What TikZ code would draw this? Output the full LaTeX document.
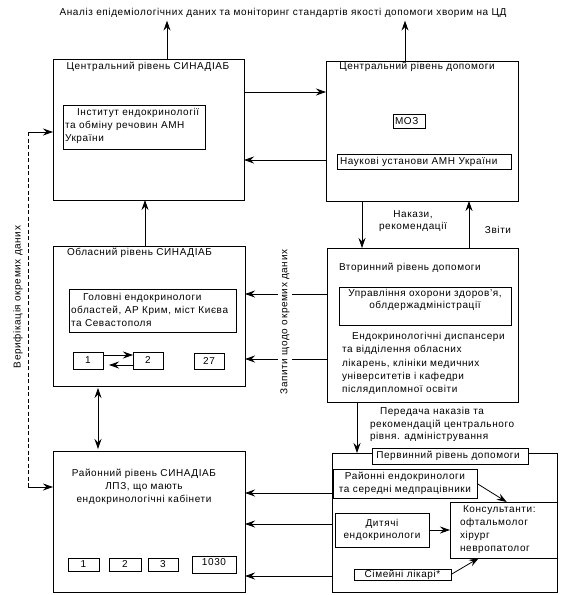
\documentclass[tikz,border=0pt]{standalone}
\usepackage{fontspec}
\setmainfont[LetterSpace=6]{Liberation Sans}
\usetikzlibrary{arrows.meta,calc}
\newcommand\mybx[6][]{\node[box,minimum width={#5-#3},minimum height={#6-#4},#1] (#2) at ({(#3+#5)/2},{(#4+#6)/2}) {};}
\begin{document}
\begin{tikzpicture}[x=1pt,y=-1pt,
  box/.style={draw,line width=0.8pt,rectangle,inner sep=0pt,outer sep=0pt},
  txt/.style={inner sep=0pt,outer sep=0pt,font=\fontsize{10}{12.8}\selectfont},
  arr/.style={-{Stealth[length=10pt,width=7pt,inset=3.5pt]},line width=0.8pt},
  dbl/.style={{Stealth[length=10pt,width=7pt,inset=3.5pt]}-{Stealth[length=10pt,width=7pt,inset=3.5pt]},line width=0.8pt},
  ln/.style={line width=0.8pt}]
\useasboundingbox (0,0) rectangle (573,595);
% top text
\node[txt] (top) at (283,13) {Аналіз епідеміологічних даних та моніторинг стандартів якості допомоги хворим на ЦД};
% central SYNADIAB
\mybx{csyn}{53}{59}{244}{200}
\node[txt] (csynT) at (148,67) {Центральний рівень СИНАДІАБ};
\mybx{inst}{63}{105}{205}{149}
\node[txt,anchor=west,align=left] (instT) at (65,126) {\hspace{12pt}Інститут ендокринології\\та обміну речовин АМН\\України};
% central care
\mybx{ccare}{326}{61}{518}{201}
\node[txt] (ccareT) at (417,67) {Центральний рівень допомоги};
\mybx{moz}{393}{114}{425}{128}
\node[txt,anchor=west] (mozT) at (395,121) {МОЗ};
\mybx{nauk}{337}{154}{511}{169}
\node[txt,anchor=west] (naukT) at (340,161.5) {Наукові установи АМН України};
% secondary
\mybx{sec}{327}{248}{518}{402}
\node[txt,anchor=west] (secT) at (339,268) {Вторинний рівень допомоги};
\mybx{upr}{339}{287}{511}{325}
\node[txt,align=center] (uprT) at (425,300) {Управління охорони здоров'я,\\облдержадміністрації};
\node[txt,anchor=west,align=left,font=\fontsize{10}{13.2}\selectfont] (endoT) at (342,363.5) {\hspace{10pt}Ендокринологічні диспансери\\та відділення обласних\\лікарень, клініки медичних\\університетів і кафедри\\післядипломної освіти};
% oblast
\mybx{obl}{53}{246}{245}{386}
\node[txt,anchor=west] (oblT) at (67,253) {Обласний рівень СИНАДІАБ};
\mybx{glav}{69}{289}{236}{332}
\node[txt,anchor=west,align=left] (glavT) at (71,310) {\hspace{12pt}Головні ендокринологи\\областей, АР Крим, міст Києва\\та Севастополя};
\mybx{ob1}{73}{352}{103}{369}
\node[txt] (ob1T) at (ob1) {1};
\mybx{ob2}{133}{352}{163}{369}
\node[txt] (ob2T) at (ob2) {2};
\mybx{ob27}{194}{353}{224}{369}
\node[txt] (ob27T) at (ob27) {27};
% district
\mybx{dist}{53}{451}{245}{592}
\node[txt,align=center] (distT) at (144,487) {Районний рівень СИНАДІАБ\\ЛПЗ, що мають\\ендокринологічні кабінети};
\mybx{d1}{68}{558}{99}{571}
\node[txt] (d1T) at (d1) {1};
\mybx{d2}{109}{558}{141}{571}
\node[txt] (d2T) at (d2) {2};
\mybx{d3}{148}{558}{178}{571}
\node[txt] (d3T) at (d3) {3};
\mybx{d1030}{192}{556}{236}{573}
\node[txt] (d1030T) at (214,562) {1030};
% primary
\mybx{prim}{332}{453}{557}{592}
\mybx[fill=white]{primB}{372}{448}{528}{464}
\node[txt] (primT) at (448,456) {Первинний рівень допомоги};
\mybx{ray}{333}{469}{477}{498}
\node[txt,align=center] (rayT) at (405,483.5) {Районні ендокринологи\\та середні медпрацівники};
\mybx{kons}{450}{502}{557}{558}
\node[txt,anchor=west,align=left] (konsT) at (460,529.5) {\hspace{3pt}Консультанти:\\офтальмолог\\хірург\\невропатолог};
\mybx{dyt}{335}{513}{429}{547}
\node[txt,align=center] (dytT) at (382,530) {Дитячі\\ендокринологи};
\mybx{sim}{354}{569}{451}{580}
\node[txt] (simT) at (402.5,574.5) {Сімейні лікарі*};
% helper coordinates
\coordinate (x167) at (167,0);
\coordinate (x405) at (405,0);
\coordinate (x145) at (145,0);
\coordinate (x362) at (362,0);
\coordinate (x469) at (469,0);
\coordinate (x98) at (98,0);
\coordinate (x357) at (357,0);
\coordinate (y92) at (0,92);
\coordinate (y160) at (0,160);
\coordinate (y294) at (0,294);
\coordinate (y359) at (0,359);
\coordinate (y355) at (0,355);
\coordinate (y365) at (0,365);
\coordinate (y493) at (0,493);
\coordinate (y524) at (0,524);
\coordinate (y576) at (0,576);
\coordinate (vtop) at (28,132);
\coordinate (vbot) at (28,487);
% connectors
\draw[arr] (csyn.north -| x167) -- ([yshift=-3pt]top.south -| x167);
\draw[arr] (ccare.north -| x405) -- ([yshift=-3pt]top.south -| x405);
\draw[arr] (csyn.east |- y92) -- (ccare.west |- y92);
\draw[arr] (ccare.west |- y160) -- (csyn.east |- y160);
\draw[arr] (obl.north -| x145) -- (csyn.south -| x145);
\draw[arr] (ccare.south -| x362) -- (sec.north -| x362);
\draw[arr] (sec.north -| x469) -- (ccare.south -| x469);
\draw[arr] (sec.west |- y294) -- (obl.east |- y294);
\draw[arr] (sec.west |- y359) -- (obl.east |- y359);
\draw[dbl,shorten <=2pt,shorten >=2pt] (obl.south -| x98) -- (dist.north -| x98);
\draw[arr] (sec.south -| x357) -- (prim.north -| x357);
\draw[arr] (prim.west |- y493) -- (dist.east |- y493);
\draw[arr] (prim.west |- y524) -- (dist.east |- y524);
\draw[arr] (prim.west |- y576) -- (dist.east |- y576);
\draw[arr] (ob1.east |- y355) -- (ob2.west |- y355);
\draw[arr,shorten >=6pt] (ob2.west |- y365) -- (ob1.east |- y365);
\draw[arr] (ray.east) -- ($(kons.north west)!0.53!(kons.north east)$);
\draw[arr] (dyt.east) -- (kons.west |- dyt.east);
\draw[arr] (sim.east) -- ($(kons.south west)!0.27!(kons.south east)$);
\draw[ln,dash pattern=on 4pt off 2.5pt] (vtop) -- (vbot);
\draw[arr] (vtop) -- (csyn.west |- vtop);
\draw[arr] (vbot) -- (dist.west |- vbot);
% labels
\node[txt,align=center] (nakT) at (413,221) {Накази,\\рекомендації};
\node[txt] (zvitT) at (498,230) {Звіти};
\node[txt,anchor=west,align=left] (peredT) at (370,424.5) {\hspace{10pt}Передача наказів та\\рекомендацій центрального\\рівня. адміністрування};
\node[txt,rotate=90] (verT) at (18,297) {Верифікація окремих даних};
\node[txt,rotate=90,fill=white,inner sep=2pt] (zapT) at (285,322) {Запити щодо окремих даних};
\end{tikzpicture}
\end{document}
